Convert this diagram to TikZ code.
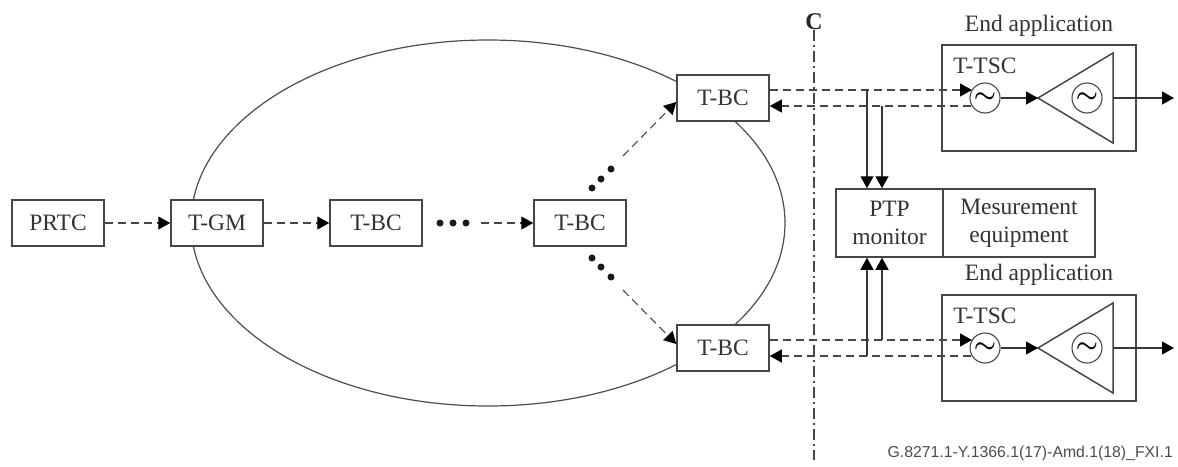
\documentclass[tikz,border=0pt]{standalone}
\usepackage{fontspec}
\setmainfont{Liberation Serif}
\newfontfamily\capfont{Liberation Sans}
\usetikzlibrary{arrows.meta}
\tikzset{
  box/.style={draw=black!72,line width=1.5pt,fill=white,minimum width=92pt,minimum height=46pt,inner sep=0pt,font=\fontsize{23.5}{28}\selectfont,text=black!80},
  lbl/.style={inner sep=0pt,font=\fontsize{23.5}{28}\selectfont,text=black!80},
  osc/.style={draw=black!72,line width=1.1pt,fill=white,circle,minimum size=30pt,inner sep=0pt,font=\fontsize{27}{27}\selectfont\boldmath},
  frame/.style={draw=black!72,line width=1.5pt},
  solidarrow/.style={draw=black!78,line width=1.1pt,-{Triangle[length=12pt,width=13pt,color=black]}},
  dasharrow/.style={draw=black!72,line width=1.1pt,dash pattern=on 8pt off 5pt,-{Triangle[length=12pt,width=13pt,color=black]}},
  dotmark/.style={circle,fill=black!90,minimum size=7pt,inner sep=0pt}
}
\begin{document}
\begin{tikzpicture}[x=1pt,y=-1pt]
\useasboundingbox (0,0) rectangle (1178,466);
\draw[black!70,line width=1.2pt] (488,223) ellipse [x radius=297,y radius=183];
% nodes of the chain
\node[box] (prtc) at (58,223) {PRTC};
\node[box] (tgm) at (217,223) {T-GM};
\node[box] (bc1) at (376,223) {T-BC};
\node[box] (bc2) at (580,223) {T-BC};
\node[box] (bctop) at (723,98) {T-BC};
\node[box] (bcbot) at (723,348) {T-BC};
\draw[dasharrow] (prtc) -- (tgm);
\draw[dasharrow] (tgm) -- (bc1);
\coordinate (chainfree) at (481,223);
\draw[dasharrow] (chainfree) -- (bc2);
\node[dotmark] (d1) at (440,223) {};
\node[dotmark] (d2) at (453,223) {};
\node[dotmark] (d3) at (466,223) {};
\node[dotmark] (u1) at (592,188) {};
\node[dotmark] (u2) at (601,179) {};
\node[dotmark] (u3) at (611,169) {};
\node[dotmark] (l1) at (592,258) {};
\node[dotmark] (l2) at (601,267) {};
\node[dotmark] (l3) at (611,277) {};
\coordinate (upfree) at (623,156);
\coordinate (lowfree) at (623,290);
\draw[dasharrow] (upfree) -- (bctop.west |- 0,102);
\draw[dasharrow] (lowfree) -- (bcbot.west |- 0,344);
% C line
\node[inner sep=0pt,font=\fontsize{24}{24}\selectfont\bfseries,text=black!85] (clabel) at (814,22) {C};
\coordinate (cend) at (814,460);
\draw[black!72,line width=1.2pt,dash pattern=on 11pt off 4pt on 2pt off 4pt] (clabel.south) -- (cend);
% monitor
\node[box,minimum width=107pt,minimum height=68pt,align=center] (ptp) at (889.5,223) {PTP\\monitor};
\node[box,minimum width=152pt,minimum height=68pt,align=center] (meas) at (1019,223) {Mesurement\\equipment};
% end application top
\node[lbl] (ea1) at (1039,26) {End application};
\node[frame,minimum width=194pt,minimum height=106pt,inner sep=0pt] (app1) at (1039,98) {};
\node[lbl] (tsc1) at (985,66) {T-TSC};
% PTP links, top
\coordinate (t1) at (bctop.east |- 0,90);
\coordinate (t2) at (972,90);
\coordinate (t3) at (971,106);
\coordinate (t4) at (bctop.east |- 0,106);
\draw[dasharrow] (t1) -- (t2);
\draw[dasharrow] (t3) -- (t4);
\coordinate (j1) at (867,90);
\coordinate (j2) at (882,106);
\draw[solidarrow] (j1) -- (j1 |- ptp.north);
\draw[solidarrow] (j2) -- (j2 |- ptp.north);
\node[osc] (o1) at (985,98) {$\sim$};
\node[osc] (p1) at (1087,98) {$\sim$};
\coordinate (a1) at (1038,98); \coordinate (b1) at (1113,53); \coordinate (c1) at (1113,143);
\draw[frame] (a1) -- (b1) -- (c1) -- cycle;
\coordinate (outa) at (1174,98); \coordinate (base1) at (1113,98);
\draw[solidarrow] (o1) -- (a1);
\draw[solidarrow] (base1) -- (outa);
% end application bottom
\node[lbl] (ea2) at (1039,275) {End application};
\node[frame,minimum width=194pt,minimum height=106pt,inner sep=0pt] (app2) at (1039,348) {};
\node[lbl] (tsc2) at (985,316) {T-TSC};
% PTP links, bottom
\coordinate (s1) at (bcbot.east |- 0,340);
\coordinate (s2) at (972,340);
\coordinate (s3) at (971,356);
\coordinate (s4) at (bcbot.east |- 0,356);
\draw[dasharrow] (s1) -- (s2);
\draw[dasharrow] (s3) -- (s4);
\coordinate (k1) at (867,356);
\coordinate (k2) at (882,340);
\draw[solidarrow] (k1) -- (k1 |- ptp.south);
\draw[solidarrow] (k2) -- (k2 |- ptp.south);
\node[osc] (o2) at (985,348) {$\sim$};
\node[osc] (p2) at (1087,348) {$\sim$};
\coordinate (a2) at (1038,348); \coordinate (b2) at (1113,303); \coordinate (c2) at (1113,393);
\draw[frame] (a2) -- (b2) -- (c2) -- cycle;
\coordinate (outb) at (1174,348); \coordinate (base2) at (1113,348);
\draw[solidarrow] (o2) -- (a2);
\draw[solidarrow] (base2) -- (outb);
\node[inner sep=0pt,anchor=east,text=black!70,font=\capfont\fontsize{15.8}{18}\selectfont] (fig) at (1173,453) {G.8271.1-Y.1366.1(17)-Amd.1(18)\_FXI.1};
\end{tikzpicture}
\end{document}
